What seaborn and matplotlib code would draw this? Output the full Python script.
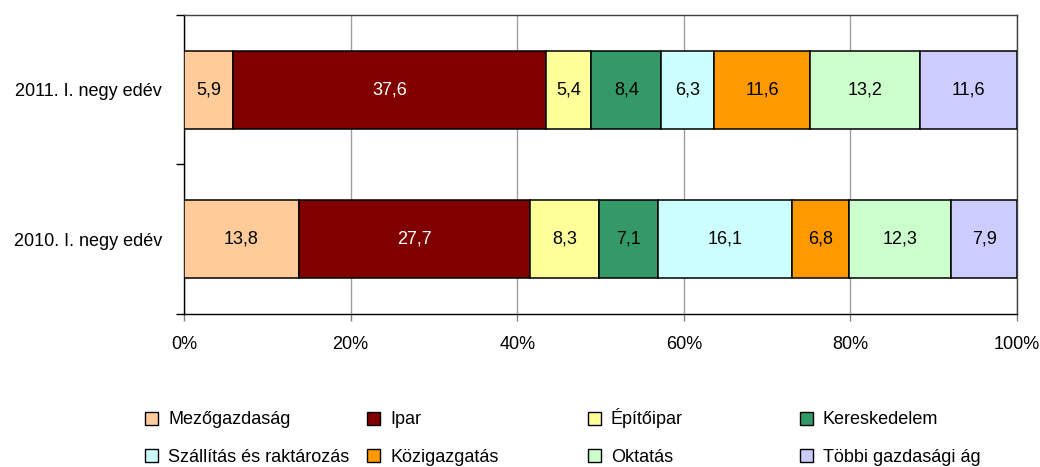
import numpy as np
import matplotlib
matplotlib.use("Agg")
import matplotlib.pyplot as plt
import matplotlib.patches as mpatches
from matplotlib.ticker import FixedLocator
import seaborn as sns

# Data
periods = ["2010. I. negy edév", "2011. I. negy edév"]
sectors = ["Mezőgazdaság", "Ipar", "Építőipar", "Kereskedelem",
           "Szállítás és raktározás", "Közigazgatás", "Oktatás",
           "Többi gazdasági ág"]
values_2010 = [13.8, 27.7, 8.3, 7.1, 16.1, 6.8, 12.3, 7.9]
values_2011 = [5.9, 37.6, 5.4, 8.4, 6.3, 11.6, 13.2, 11.6]
x_ticks = [0, 20, 40, 60, 80, 100]
x_tick_labels = ["0%", "20%", "40%", "60%", "80%", "100%"]

colors = ["#FFCC99", "#800000", "#FFFF99", "#339966",
          "#CCFFFF", "#FF9900", "#CCFFCC", "#CCCCFF"]
label_colors = ["black", "white", "black", "black",
                "black", "black", "black", "black"]

sns.set_theme(style="white")
plt.rcParams["font.family"] = ["Liberation Sans", "DejaVu Sans"]
plt.rcParams.update({"text.color": "black", "xtick.color": "black",
                     "ytick.color": "black", "axes.labelcolor": "black"})
FS = 13

W, H = 1040, 467
fig = plt.figure(figsize=(W / 100, H / 100), dpi=100)
ax = fig.add_axes([184 / W, 1 - 314 / H, 833 / W, 299 / H])

data = np.array([values_2010, values_2011])
ypos = np.arange(len(periods))
left = np.zeros(len(periods))
for i, sector in enumerate(sectors):
    bars = ax.barh(ypos, data[:, i], left=left, height=0.52,
                   color=colors[i], edgecolor="black", linewidth=1.1,
                   label=sector, zorder=3)
    ax.bar_label(bars, labels=[f"{v:.1f}".replace(".", ",") for v in data[:, i]],
                 label_type="center", color=label_colors[i], fontsize=FS)
    left += data[:, i]

ax.set_xlim(0, 100)
ax.set_ylim(-0.5, 1.5)

# x axis
ax.set_xticks(x_ticks)
ax.set_xticklabels(x_tick_labels, fontsize=FS)
ax.tick_params(axis="x", direction="out", length=5, width=1.0,
               color="#808080", labelcolor="black", pad=11, bottom=True)
ax.grid(axis="x", color="#A0A0A0", linewidth=1.0, zorder=0)
ax.grid(axis="y", visible=False)

# y axis: marks on category boundaries, labels at centres
ax.yaxis.set_major_locator(FixedLocator([-0.5, 0.5, 1.5]))
ax.yaxis.set_minor_locator(FixedLocator(ypos))
ax.set_yticklabels([])
ax.set_yticklabels(periods, minor=True, fontsize=FS)
ax.tick_params(axis="y", which="major", direction="out", length=5.5,
               width=1.0, color="black", left=True)
ax.tick_params(axis="y", which="minor", length=0, pad=16, labelcolor="black")

for side in ["left", "bottom"]:
    ax.spines[side].set_color("black")
    ax.spines[side].set_linewidth(1.0)
for side in ["top", "right"]:
    ax.spines[side].set_color("#404040")
    ax.spines[side].set_linewidth(1.0)

# Legend: four columns, two rows, drawn entry by entry so every label
# sits on the same baseline
col_x = [145, 367, 588, 800]
row_y = [418, 455]
box = 13
for j, sector in enumerate(sectors):
    x = col_x[j % 4]
    y = row_y[j // 4]
    fig.patches.append(mpatches.Rectangle(
        (x / W, 1 - (y + box / 2) / H), box / W, box / H,
        facecolor=colors[j], edgecolor="black", linewidth=1.0,
        transform=fig.transFigure, figure=fig))
    fig.text((x + box + 10) / W, 1 - (y + 6.5) / H, sector,
             fontsize=FS, va="baseline", ha="left")

fig.savefig("out.png", dpi=100)
